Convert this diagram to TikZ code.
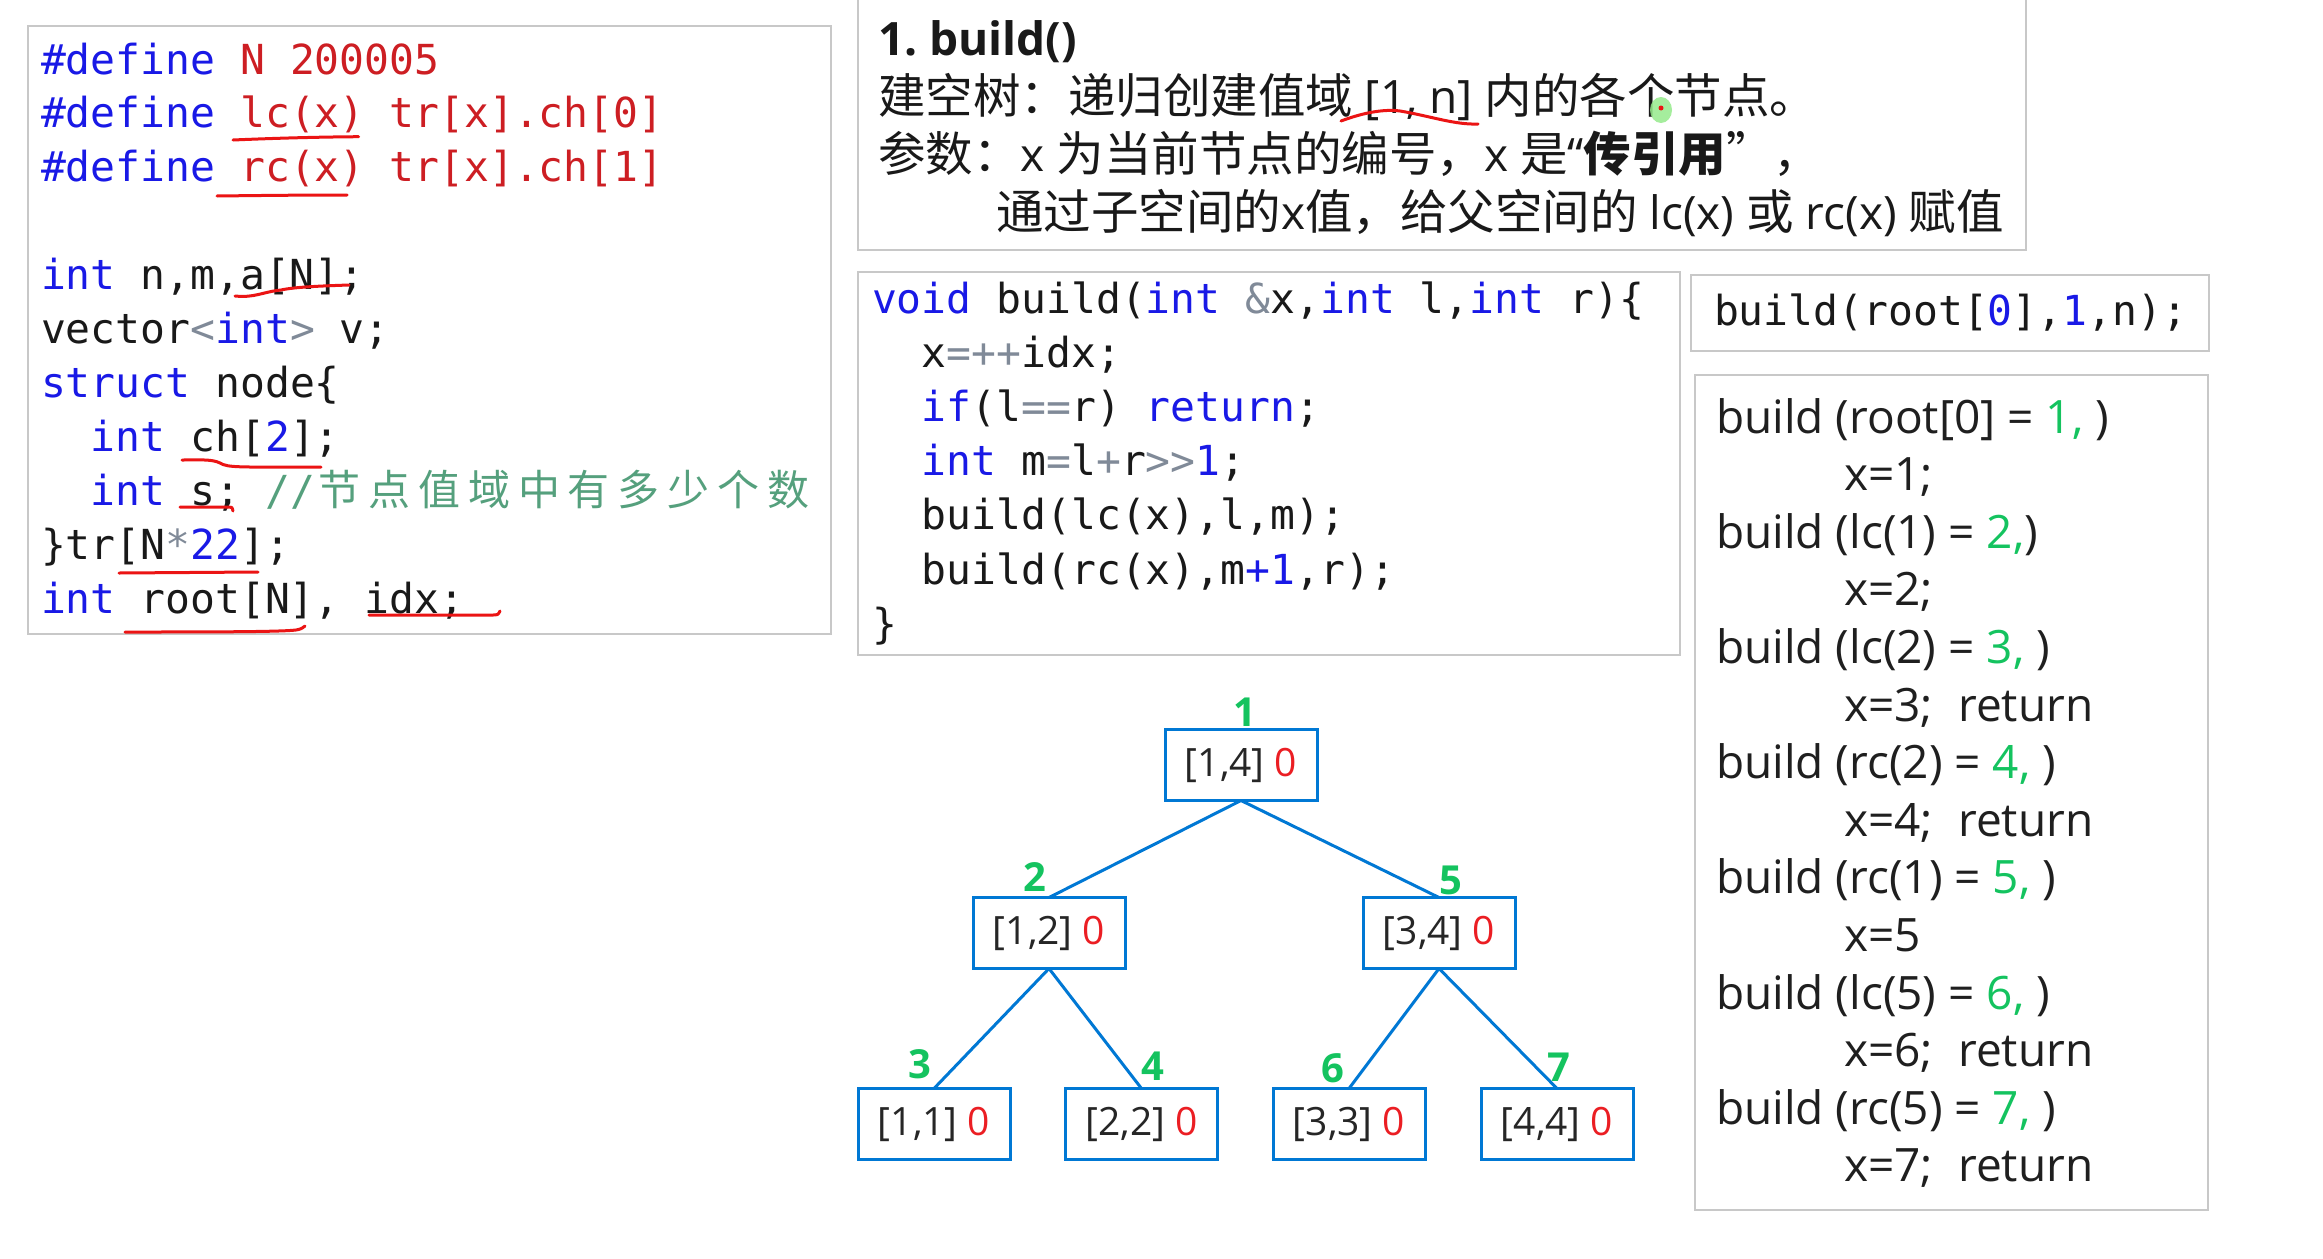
\documentclass[tikz,border=0pt]{standalone}
\usepackage{fontspec}
\setmainfont{Open Sans}
\newfontfamily\cjk{Noto Sans CJK SC}
\newfontfamily\mono{DejaVu Sans Mono}
\frenchspacing
\definecolor{kwblue}{RGB}{25,25,230}
\definecolor{dred}{RGB}{205,30,35}
\definecolor{codeblack}{RGB}{25,25,25}
\definecolor{opgray}{RGB}{128,138,152}
\definecolor{cmgreen}{RGB}{85,160,125}
\definecolor{boxgray}{RGB}{200,200,200}
\definecolor{treeblue}{RGB}{0,120,212}
\definecolor{lblgreen}{RGB}{20,195,95}
\definecolor{nred}{RGB}{235,30,35}
\definecolor{markred}{RGB}{235,20,20}
\definecolor{hlgreen}{RGB}{150,235,140}
\newcommand\ckw[1]{\textcolor{kwblue}{#1}}
\newcommand\cop[1]{\textcolor{opgray}{#1}}
\newcommand\cred[1]{\textcolor{dred}{#1}}
\newcommand\ccm[1]{\textcolor{cmgreen}{#1}}
\newcommand\cgr[1]{\textcolor{lblgreen}{#1}}
\newcommand\zc[1]{\makebox[49.8pt]{\cjk\fontsize{42}{50}\selectfont\color{cmgreen}#1}}
\newcommand\zh[1]{{\cjk\fontsize{47.5}{58}\selectfont #1}}
\newcommand\codefont{\mono\fontsize{41.36}{50}\selectfont}
\tikzset{
  txt/.style={inner sep=0pt, outer sep=0pt, anchor=base west},
  codeL/.style={txt, font=\codefont, text=codeblack},
  ttl/.style={txt, font=\fontsize{46}{58}\selectfont, text=black!90},
  trace/.style={txt, font=\fontsize{46}{56}\selectfont, text=black!88},
  gbox/.style={draw=boxgray, line width=2.5pt},
  tnode/.style={draw=treeblue, line width=3pt, minimum width=152pt, minimum height=71pt, inner sep=0pt, outer sep=0pt, font=\fontsize{39}{46}\selectfont, text=black!85},
  lbl/.style={inner sep=0pt, font=\bfseries\fontsize{40}{46}\selectfont, text=lblgreen},
  treeline/.style={draw=treeblue, line width=3pt},
  redmark/.style={draw=markred, line width=3pt, line cap=round, line join=round},
}
\begin{document}
\begin{tikzpicture}[x=1pt,y=-1pt]
\useasboundingbox (0,0) rectangle (2323,1258);
\fill[white] (0,0) rectangle (2323,1258);

% boxes
\draw[gbox] (28,26) rectangle (831,634);
\draw[gbox] (858,-3) rectangle (2026,250);
\draw[gbox] (858,272) rectangle (1680,655);
\draw[gbox] (1691,275) rectangle (2209,351);
\draw[gbox] (1695,375) rectangle (2208,1210);

% left code
\node[codeL] (l0) at (41,74) {\ckw{\#define} \cred{N 200005}};
\node[codeL] (l1) at (41,127.9) {\ckw{\#define} \cred{lc(x) tr[x].ch[0]}};
\node[codeL] (l2) at (41,181.8) {\ckw{\#define} \cred{rc(x) tr[x].ch[1]}};
\node[codeL] (l4) at (41,289.6) {\ckw{int} n,m,a[N];};
\node[codeL] (l5) at (41,343.5) {vector\cop{<}\ckw{int}\cop{>} v;};
\node[codeL] (l6) at (41,397.4) {\ckw{struct} node\{};
\node[codeL] (l7) at (90.8,451.3) {\ckw{int} ch[\ckw{2}];};
\node[codeL] (l8) at (90.8,505.2) {\ckw{int} s; \ccm{//}\zc{节}\zc{点}\zc{值}\zc{域}\zc{中}\zc{有}\zc{多}\zc{少}\zc{个}\zc{数}};
\node[codeL] (l9) at (41,559.1) {\}tr[N\cop{*}\ckw{22}];};
\node[codeL] (l10) at (41,613) {\ckw{int} root[N], idx;};

% build code
\node[codeL] (b0) at (872,313) {\ckw{void} build(\ckw{int} \cop{\&}x,\ckw{int} l,\ckw{int} r)\{};
\node[codeL] (b1) at (921.8,367.2) {x\cop{=++}idx;};
\node[codeL] (b2) at (921.8,421.4) {\ckw{if}(l\cop{==}r) \ckw{return};};
\node[codeL] (b3) at (921.8,475.6) {\ckw{int} m\cop{=}l\cop{+}r\cop{>\kern0pt>}\ckw{1};};
\node[codeL] (b4) at (921.8,529.8) {build(lc(x),l,m);};
\node[codeL] (b5) at (921.8,584) {build(rc(x),m\ckw{+1},r);};
\node[codeL] (b6) at (872,638.2) {\}};

% call
\node[codeL] (call) at (1714,325) {build(root[\ckw{0}],\ckw{1},n);};

% title
\node[ttl] (t0) at (878,55) {\bfseries 1. build()};
\node[ttl] (t1) at (878,113) {\zh{建空树：递归创建值域} [1, n] \zh{内的各个节点。}};
\node[ttl] (t2) at (878,171) {\zh{参数：}x \zh{为当前节点的编号，}x \zh{是}“\zh{\bfseries 传引用}\zh{”，}};
\node[ttl] (t3) at (996,229) {\zh{通过子空间的}x\zh{值，给父空间的} lc(x) \zh{或} rc(x) \zh{赋值}};

% trace
\node[trace] (s1) at (1716,433) {build (root[0] = \cgr{1,} )};
\node[trace] (s2) at (1844,490.6) {x=1;};
\node[trace] (s3) at (1716,548.2) {build (lc(1) = \cgr{2,})};
\node[trace] (s4) at (1844,605.8) {x=2;};
\node[trace] (s5) at (1716,663.4) {build (lc(2) = \cgr{3,} )};
\node[trace] (s6) at (1844,721) {x=3;\hspace{0.55em}return};
\node[trace] (s7) at (1716,778.6) {build (rc(2) = \cgr{4,} )};
\node[trace] (s8) at (1844,836.2) {x=4;\hspace{0.55em}return};
\node[trace] (s9) at (1716,893.8) {build (rc(1) = \cgr{5,} )};
\node[trace] (s10) at (1844,951.4) {x=5};
\node[trace] (s11) at (1716,1009) {build (lc(5) = \cgr{6,} )};
\node[trace] (s12) at (1844,1066.6) {x=6;\hspace{0.55em}return};
\node[trace] (s13) at (1716,1124.2) {build (rc(5) = \cgr{7,} )};
\node[trace] (s14) at (1844,1181.8) {x=7;\hspace{0.55em}return};

% tree
\node[tnode] (n1) at (1241,765) {[1,4] \textcolor{nred}{0}};
\node[tnode] (n2) at (1049,933) {[1,2] \textcolor{nred}{0}};
\node[tnode] (n5) at (1439,933) {[3,4] \textcolor{nred}{0}};
\node[tnode] (n3) at (934,1124) {[1,1] \textcolor{nred}{0}};
\node[tnode] (n4) at (1141.5,1124) {[2,2] \textcolor{nred}{0}};
\node[tnode] (n6) at (1349,1124) {[3,3] \textcolor{nred}{0}};
\node[tnode] (n7) at (1557,1124) {[4,4] \textcolor{nred}{0}};
\draw[treeline] (n1.south) -- (n2.north);
\draw[treeline] (n1.south) -- (n5.north);
\draw[treeline] (n2.south) -- (n3.north);
\draw[treeline] (n2.south) -- (n4.north);
\draw[treeline] (n5.south) -- (n6.north);
\draw[treeline] (n5.south) -- (n7.north);
\node[lbl] (g1) at (1245,712) {1};
\node[lbl] (g2) at (1035,877) {2};
\node[lbl] (g5) at (1451,880) {5};
\node[lbl] (g3) at (920,1064) {3};
\node[lbl] (g4) at (1153,1066) {4};
\node[lbl] (g6) at (1333,1068) {6};
\node[lbl] (g7) at (1559,1067) {7};

% hand-drawn red marks
\draw[redmark] (233,140) .. controls (280,138) and (320,137) .. (358.6,136.7);
\draw[redmark] (217,196) .. controls (260,195.5) and (300,195) .. (347,195);
\draw[redmark] (235,296) .. controls (255,298) and (262,292) .. (281,290) .. controls (295,287) and (320,286) .. (349,285);
\draw[redmark] (182,460) .. controls (200,460) and (212,459) .. (220,463) .. controls (228,468) and (240,467) .. (321,467);
\draw[redmark] (180,507) -- (229,507) .. controls (232,507) .. (233,511);
\draw[redmark] (119,573) -- (258,572);
\draw[redmark] (125,632) .. controls (200,632) and (280,632) .. (296,630) .. controls (301,629) .. (305,626);
\draw[redmark] (369,615) -- (491,615) .. controls (498,615) .. (500,611);
\draw[redmark] (1341,121) .. controls (1365,112) and (1385,109) .. (1400,111) .. controls (1430,116) and (1455,125) .. (1478,124);

% cursor highlight
\fill[hlgreen, opacity=0.85] (1661,110) ellipse[x radius=11, y radius=13];
\fill[markred] (1661,108) circle[radius=2.5];
\end{tikzpicture}
\end{document}
